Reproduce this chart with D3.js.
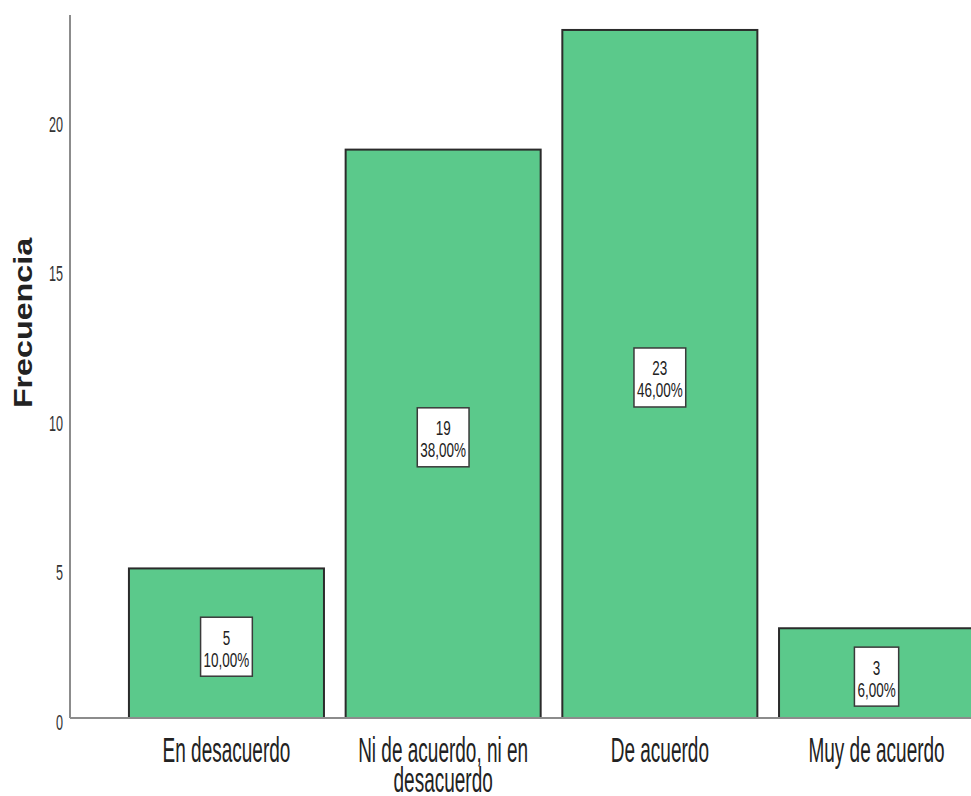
<!DOCTYPE html>
<html lang="es">
<head>
<meta charset="UTF-8">
<title>Frecuencia</title>
<script src="https://d3js.org/d3.v7.min.js"></script>
<style>
  body { margin: 0; background: #fff; }
  svg { display: block; }
  text { font-family: "Liberation Sans", Arial, sans-serif; }
</style>
</head>
<body>
<div id="chart"></div>
<script>
// datos
const categories = ["En desacuerdo", "Ni de acuerdo, ni en desacuerdo", "De acuerdo", "Muy de acuerdo"];
const counts = [5, 19, 23, 3];
const percents = ["10,00%", "38,00%", "46,00%", "6,00%"];
const yTicks = [0, 5, 10, 15, 20];
const yTitle = "Frecuencia";

const width = 971, height = 796;
const svg = d3.select("#chart").append("svg")
  .attr("width", width)
  .attr("height", height);

const axisX = 70, baseY = 718, topY = 15;

const x = d3.scaleBand()
  .domain(categories)
  .range([axisX, 1033])
  .paddingInner(0.1)
  .paddingOuter(0.272);

const y = d3.scaleLinear()
  .domain([0, 23.5])
  .range([baseY, topY]);

// barras
svg.append("g")
  .selectAll("rect")
  .data(categories)
  .join("rect")
  .attr("x", d => x(d))
  .attr("y", (d, i) => y(counts[i]))
  .attr("width", x.bandwidth())
  .attr("height", (d, i) => y(0) - y(counts[i]))
  .attr("fill", "#5bc98b")
  .attr("stroke", "#2b2b2b")
  .attr("stroke-width", 2);

// ejes
svg.append("line")
  .attr("x1", axisX).attr("x2", axisX)
  .attr("y1", topY).attr("y2", baseY)
  .attr("stroke", "#8c8c8c").attr("stroke-width", 2);
svg.append("line")
  .attr("x1", axisX).attr("x2", width)
  .attr("y1", baseY).attr("y2", baseY)
  .attr("stroke", "#8c8c8c").attr("stroke-width", 2);

// etiquetas del eje y (texto estirado en vertical como el original)
svg.append("g")
  .selectAll("text")
  .data(yTicks)
  .join("text")
  .attr("transform", d => `translate(63,${y(d) + 12}) scale(1,1.75)`)
  .attr("text-anchor", "end")
  .attr("font-size", 12.6)
  .attr("fill", "#333")
  .text(d => d);

// titulo eje y
svg.append("text")
  .attr("transform", "translate(32,323) rotate(-90) scale(1.29,1)")
  .attr("text-anchor", "middle")
  .attr("font-size", 25)
  .attr("font-weight", "bold")
  .attr("fill", "#222")
  .text(yTitle);

// categorias con salto de linea
const catG = svg.append("g");
categories.forEach(c => {
  const words = c.split(" ");
  const lines = [];
  let cur = "";
  const probe = catG.append("text").attr("font-size", 19);
  words.forEach(w => {
    const test = cur ? cur + " " + w : w;
    probe.text(test);
    if (probe.node().getComputedTextLength() > 190 && cur) {
      lines.push(cur);
      cur = w;
    } else {
      cur = test;
    }
  });
  lines.push(cur);
  probe.remove();
  lines.forEach((ln, j) => {
    catG.append("text")
      .attr("transform", `translate(${x(c) + x.bandwidth() / 2},${762 + j * 30}) scale(1,1.8)`)
      .attr("text-anchor", "middle")
      .attr("font-size", 19)
      .attr("fill", "#222")
      .text(ln);
  });
});

// cajas de valores
categories.forEach((c, i) => {
  const cx = x(c) + x.bandwidth() / 2;
  const cy = y(counts[i] / 2) + 3.5;
  const g = svg.append("g");
  const box = g.append("rect");
  const t1 = g.append("text")
    .attr("transform", `translate(${cx},${cy - 2}) scale(1,1.55)`)
    .attr("text-anchor", "middle")
    .attr("font-size", 13.5)
    .attr("fill", "#222")
    .text(counts[i]);
  const t2 = g.append("text")
    .attr("transform", `translate(${cx},${cy + 20}) scale(1,1.55)`)
    .attr("text-anchor", "middle")
    .attr("font-size", 13.5)
    .attr("fill", "#222")
    .text(percents[i]);
  const w = Math.max(t1.node().getComputedTextLength(), t2.node().getComputedTextLength()) + 6;
  box.attr("x", cx - w / 2)
    .attr("y", cy - 29.5)
    .attr("width", w)
    .attr("height", 59)
    .attr("fill", "#fff")
    .attr("stroke", "#3a3a3a")
    .attr("stroke-width", 1.5);
});
</script>
</body>
</html>
